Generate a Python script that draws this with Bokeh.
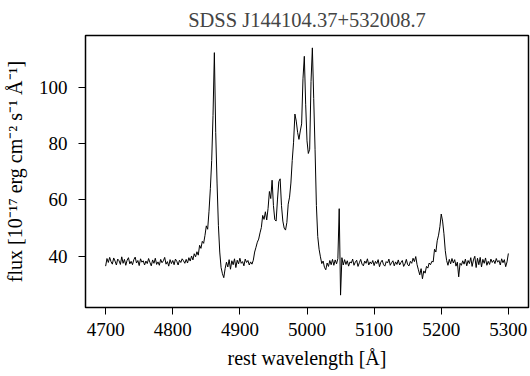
import numpy as np
from bokeh.plotting import figure
from bokeh.models import Range1d, SingleIntervalTicker
from bokeh.embed import file_html
from bokeh.resources import INLINE

title_text = "SDSS J144104.37+532008.7"
x_label = "rest wavelength [Å]"
y_label = "flux [10⁻¹⁷ erg cm⁻² s⁻¹ Å⁻¹]"

# rest wavelength grid (Å), 2 Å sampling
wavelength = np.arange(4700, 5301, 2)

flux = [
    36.5, 39.2, 37.8, 39.6, 38.1, 37.2, 39.4, 38.3, 36.9, 39.0,   # 4700
    38.4, 37.1, 39.8, 37.5, 38.9, 36.8, 38.6, 39.5, 37.3, 38.2,   # 4720
    37.0, 38.8, 39.7, 37.6, 38.5, 36.7, 39.1, 37.9, 38.4, 36.9,   # 4740
    38.3, 37.4, 39.2, 37.8, 36.6, 38.7, 37.5, 39.3, 37.1, 38.0,   # 4760
    36.8, 38.9, 37.7, 38.4, 39.6, 37.2, 38.1, 36.5, 38.8, 37.4,   # 4780
    38.5, 37.0, 39.0, 38.2, 36.9, 38.6, 37.8, 39.1, 38.4, 37.5,   # 4800
    38.9, 37.6, 39.5, 38.3, 40.1, 38.7, 40.9, 39.8, 41.6, 40.4,   # 4820
    43.9, 42.8, 45.3, 44.6, 47.4, 50.8, 49.6, 56.0, 64.0, 74.0,   # 4840
    90.0, 112.3, 84.0, 66.0, 51.0, 41.5, 36.0, 33.8, 32.4, 35.6,  # 4860
    37.9, 36.2, 38.8, 35.4, 38.4, 37.0, 39.1, 36.0, 38.6, 37.3,   # 4880
    39.3, 37.5, 38.1, 36.6, 39.0, 37.8, 38.5, 36.9, 38.0, 37.2,   # 4900
    38.6, 41.5, 43.2, 45.0, 46.1, 48.3, 50.2, 54.5, 53.1, 55.8,   # 4920
    52.9, 57.0, 63.0, 60.5, 67.0, 58.0, 53.0, 52.5, 60.0, 66.5,   # 4940
    67.5, 58.0, 52.5, 50.0, 49.3, 52.0, 58.5, 61.0, 66.0, 74.0,   # 4960
    80.5, 90.5, 88.0, 84.0, 81.5, 84.5, 87.0, 103.0, 111.0, 94.0, # 4980
    81.0, 76.5, 78.0, 102.0, 114.0, 96.0, 78.0, 58.0, 47.0, 42.5, # 5000
    39.8, 37.4, 38.3, 36.1, 35.2, 37.6, 36.4, 38.5, 37.0, 38.9,   # 5020
    36.8, 38.7, 37.3, 39.2, 56.9, 26.2, 39.5, 36.9, 38.8, 37.1,   # 5040
    38.4, 36.5, 38.0, 37.6, 39.0, 36.8, 37.9, 38.6, 36.4, 37.7,   # 5060
    38.9, 37.2, 36.6, 38.3, 37.5, 39.1, 36.9, 38.0, 37.3, 38.5,   # 5080
    36.7, 38.2, 37.4, 38.8, 36.3, 37.9, 38.6, 37.0, 36.5, 38.1,   # 5100
    37.6, 39.0, 36.8, 37.7, 38.4, 36.6, 38.0, 37.1, 38.7, 36.9,   # 5120
    37.8, 38.5, 36.4, 37.3, 38.9, 37.0, 36.6, 38.2, 37.5, 39.3,   # 5140
    38.1, 39.9, 37.0, 35.2, 33.4, 35.6, 32.0, 34.8, 34.0, 36.4,   # 5160
    35.8, 37.6, 37.0, 38.2, 38.0, 42.5, 41.5, 45.5, 47.5, 50.5,   # 5180
    55.0, 52.5, 48.0, 42.0, 38.5, 36.8, 38.9, 37.3, 39.2, 37.6,   # 5200
    38.8, 36.5, 37.9, 32.7, 37.5, 36.8, 38.4, 37.2, 39.0, 36.6,   # 5220
    38.5, 37.4, 39.5, 36.4, 38.7, 40.0, 36.0, 39.3, 37.0, 39.6,   # 5240
    36.2, 38.9, 37.5, 39.4, 36.8, 38.2, 37.1, 39.0, 37.8, 38.6,   # 5260
    37.4, 39.2, 37.9, 38.5, 36.9, 39.1, 37.7, 38.8, 36.3, 38.0,   # 5280
    41.0,                                                         # 5300
]

x_ticks_interval = 100
y_ticks_interval = 20

FONT = "Liberation Serif"
FS = "19px"

xmin, xmax = float(wavelength.min()), float(wavelength.max())
ymin, ymax = min(flux), max(flux)
xpad = 0.05 * (xmax - xmin)
ypad = 0.05 * (ymax - ymin)

p = figure(width=530, height=376, output_backend="svg", toolbar_location=None,
           x_range=Range1d(xmin - xpad, xmax + xpad),
           y_range=Range1d(ymin - ypad, ymax + ypad),
           min_border_left=85, min_border_right=2, min_border_top=35,
           min_border_bottom=69, title=title_text)

p.line(wavelength, flux, line_color="black", line_width=1)

p.title.align = "center"
p.title.text_font = FONT
p.title.text_font_size = "20.5px"
p.title.text_font_style = "normal"
p.title.offset = 0
p.title.standoff = 9

p.xgrid.visible = False
p.ygrid.visible = False
p.outline_line_color = "black"
p.outline_line_width = 1.5
p.outline_line_alpha = 1.0
p.background_fill_color = "white"
p.border_fill_color = "white"

p.xaxis.ticker = SingleIntervalTicker(interval=x_ticks_interval, num_minor_ticks=0)
p.yaxis.ticker = SingleIntervalTicker(interval=y_ticks_interval, num_minor_ticks=0)

for ax in (p.xaxis[0], p.yaxis[0]):
    ax.axis_line_color = None
    ax.major_tick_line_color = "black"
    ax.major_tick_line_width = 1
    ax.major_tick_in = 0
    ax.major_tick_out = 7
    ax.minor_tick_line_color = None
    ax.major_label_text_font = FONT
    ax.major_label_text_font_size = FS
    ax.major_label_text_color = "black"
    ax.axis_label_text_font = FONT
    ax.axis_label_text_font_size = "20px"
    ax.axis_label_text_font_style = "normal"
    ax.axis_label_text_color = "black"

p.xaxis.axis_label = x_label
p.yaxis.axis_label = y_label
p.xaxis.major_label_standoff = 8
p.yaxis.major_label_standoff = 11
p.xaxis.axis_label_standoff = 8
p.yaxis.axis_label_standoff = 10

open("out.html", "w").write(file_html(p, INLINE))
